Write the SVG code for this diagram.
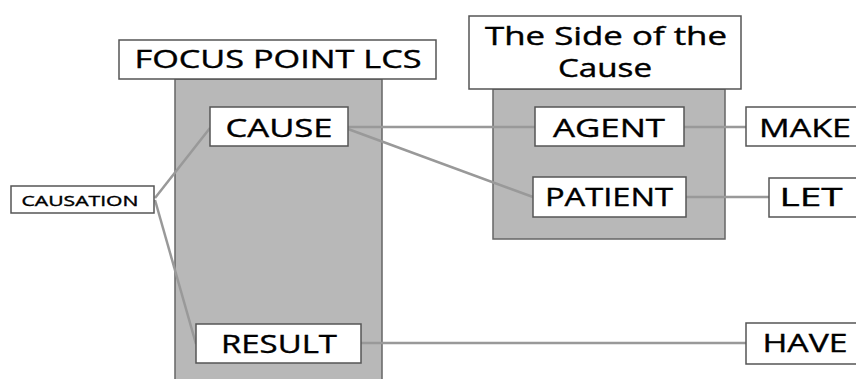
<svg xmlns="http://www.w3.org/2000/svg" width="856" height="379" viewBox="0 0 856 379">
<style>
.panel{fill:#b8b8b8;stroke:#666;stroke-width:1.5}
.box{fill:#fff;stroke:#555;stroke-width:1.5}
.t{font-family:"Open Sans","Liberation Sans",sans-serif;fill:#000;text-anchor:middle;stroke:#000;stroke-width:0.4}
.l{stroke:#999;stroke-width:2.5;fill:none}
</style>
<rect width="856" height="379" fill="#fff"/>
<g id="focus-panel">
<rect class="panel" x="175" y="79" width="207" height="310"/>
<rect class="box" x="119" y="40" width="317" height="39"/>
<text class="t" x="278" y="68" font-size="25" textLength="287" lengthAdjust="spacingAndGlyphs">FOCUS POINT LCS</text>
</g>
<g id="side-panel">
<rect class="panel" x="493" y="89" width="232" height="150"/>
<rect class="box" x="469" y="16" width="272" height="73"/>
<text class="t" x="606" y="45" font-size="25" textLength="242" lengthAdjust="spacingAndGlyphs">The Side of the</text>
<text class="t" x="605" y="77" font-size="25" textLength="94" lengthAdjust="spacingAndGlyphs">Cause</text>
</g>
<g id="connectors">
<line class="l" x1="155" y1="198" x2="210" y2="128"/>
<line class="l" x1="155" y1="200" x2="196" y2="344"/>
<line class="l" x1="348" y1="127" x2="535" y2="127"/>
<line class="l" x1="348" y1="129" x2="533" y2="197"/>
<line class="l" x1="684" y1="127" x2="746" y2="127"/>
<line class="l" x1="686" y1="197" x2="769" y2="197"/>
<line class="l" x1="361" y1="343" x2="746" y2="343"/>
</g>
<g id="causation">
<rect class="box" x="11" y="186" width="143" height="27"/>
<text class="t" x="80" y="206" font-size="15" textLength="117" lengthAdjust="spacingAndGlyphs" stroke-width="0.2">CAUSATION</text>
</g>
<g id="cause">
<rect class="box" x="210" y="107" width="138" height="39"/>
<text class="t" x="279" y="137" font-size="26" textLength="107" lengthAdjust="spacingAndGlyphs">CAUSE</text>
</g>
<g id="result">
<rect class="box" x="196" y="324" width="165" height="39"/>
<text class="t" x="279" y="353" font-size="26" textLength="116" lengthAdjust="spacingAndGlyphs">RESULT</text>
</g>
<g id="agent">
<rect class="box" x="535" y="107" width="149" height="39"/>
<text class="t" x="609" y="137" font-size="26" textLength="112" lengthAdjust="spacingAndGlyphs">AGENT</text>
</g>
<g id="patient">
<rect class="box" x="533" y="177" width="153" height="40"/>
<text class="t" x="609" y="206" font-size="26" textLength="128" lengthAdjust="spacingAndGlyphs">PATIENT</text>
</g>
<g id="make">
<rect class="box" x="746" y="107" width="130" height="39"/>
<text class="t" x="805" y="137" font-size="26" textLength="92" lengthAdjust="spacingAndGlyphs">MAKE</text>
</g>
<g id="let">
<rect class="box" x="769" y="178" width="110" height="39"/>
<text class="t" x="811" y="206" font-size="26" textLength="63" lengthAdjust="spacingAndGlyphs">LET</text>
</g>
<g id="have">
<rect class="box" x="746" y="323" width="130" height="41"/>
<text class="t" x="805" y="352" font-size="26" textLength="85" lengthAdjust="spacingAndGlyphs">HAVE</text>
</g>
</svg>
